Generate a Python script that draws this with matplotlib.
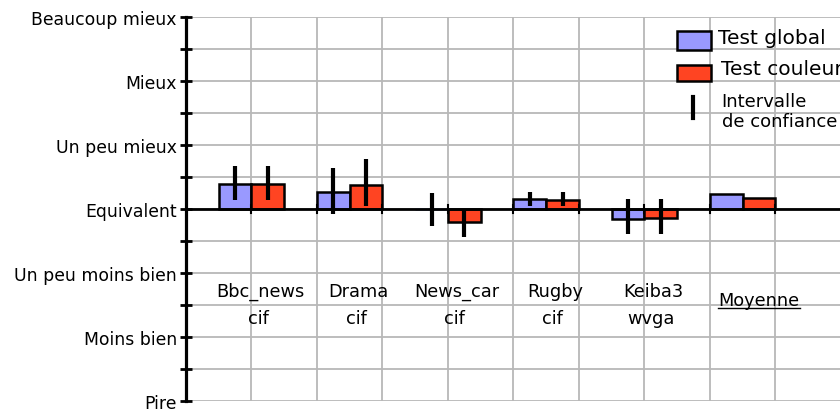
import matplotlib
matplotlib.use("Agg")
import matplotlib.pyplot as plt
import numpy as np
from matplotlib.patches import Rectangle
from matplotlib.lines import Line2D

# Sequences tested
categories = ["Bbc_news", "Drama", "News_car", "Rugby", "Keiba3", "Moyenne"]
formats = ["cif", "cif", "cif", "cif", "wvga", ""]

# Mean opinion scores (0 = Equivalent)
global_scores = [0.39, 0.27, 0.0, 0.156, -0.156, 0.23]
colour_scores = [0.39, 0.375, -0.21, 0.145, -0.145, 0.17]

# Confidence interval bounds (no interval for the average)
global_ci_low = [0.14, -0.08, -0.26, 0.05, -0.39, None]
global_ci_high = [0.67, 0.64, 0.245, 0.26, 0.156, None]
colour_ci_low = [0.14, 0.05, -0.43, 0.05, -0.39, None]
colour_ci_high = [0.67, 0.78, 0.0, 0.27, 0.156, None]

level_labels = ["Pire", "Moins bien", "Un peu moins bien", "Equivalent",
                "Un peu mieux", "Mieux", "Beaucoup mieux"]
level_values = [-3, -2, -1, 0, 1, 2, 3]

legend_labels = ["Test global", "Test couleur", "Intervalle\nde confiance"]

BLUE = "#9999ff"
RED = "#ff4422"
ZERO_EDGE = "#8fa3dc"

fig = plt.figure(figsize=(8.4, 4.1), dpi=100)
ax = fig.add_axes([186 / 840, 8 / 410, 654 / 840, 384 / 410])
ax.set_xlim(0, 9.985)
ax.set_ylim(-3, 3)

group_pos = 1 + 1.5 * np.arange(len(categories))
bw = 0.5

# grid
for yv in np.arange(-3, 3.01, 0.5):
    ax.axhline(yv, color="#b8b8b8", lw=1.3, zorder=0)
for xv in range(1, 10):
    ax.axvline(xv, color="#b8b8b8", lw=1.3, zorder=0)

def draw_series(xs, vals, lows, highs, color):
    edges = ["black" if v != 0 else ZERO_EDGE for v in vals]
    ax.bar(xs, vals, width=bw, align="edge", color=color,
           edgecolor=edges, linewidth=1.8, zorder=3)
    for x, v, lo, hi in zip(xs, vals, lows, highs):
        if lo is None:
            continue
        ax.errorbar(x + bw / 2, v, yerr=[[v - lo], [hi - v]], fmt="none",
                    ecolor="black", elinewidth=3, capsize=0, zorder=4)

draw_series(group_pos - bw, global_scores, global_ci_low, global_ci_high, BLUE)
draw_series(group_pos, colour_scores, colour_ci_low, colour_ci_high, RED)

# zero line with small ticks at the grid positions
ax.axhline(0, color="black", lw=2, zorder=3.5)
for xv in range(1, 10):
    ax.plot([xv, xv], [-0.06, 0.06], color="black", lw=1.5, zorder=3.5)

# left axis
for s in ["top", "right", "bottom"]:
    ax.spines[s].set_visible(False)
ax.spines["left"].set_linewidth(2.3)
ax.set_yticks(level_values)
ax.set_yticklabels(level_labels, fontsize=12.4)
ax.set_yticks(np.arange(-2.5, 3, 1.0), minor=True)
ax.tick_params(axis="y", which="both", direction="inout", length=9, width=2,
               pad=2)
ax.set_xticks([])

# category labels
for x, name, fmt in zip(group_pos, categories, formats):
    if fmt:
        ax.text(x + 0.13, -1.28, name, ha="center", va="center", fontsize=12.8)
        ax.text(x + 0.1, -1.7, fmt, ha="center", va="center", fontsize=12.8)
    else:
        ax.text(x + 0.25, -1.42, name, ha="center", va="center",
                fontsize=12.8)
        ax.plot([x - 0.38, x + 0.88], [-1.55, -1.55], color="black", lw=1)

# legend
def ax_frac(px, py):
    return (px - 186) / 654, (402 - py) / 384

x0, y0 = ax_frac(677.3, 50.7)
ax.add_patch(Rectangle((x0, y0), 33.7 / 654, 18.4 / 384, transform=ax.transAxes,
                       facecolor=BLUE, edgecolor="black", lw=1.8,
                       clip_on=False, zorder=5))
x0, y0 = ax_frac(677.3, 82.3)
ax.add_patch(Rectangle((x0, y0), 33.7 / 654, 16.6 / 384, transform=ax.transAxes,
                       facecolor=RED, edgecolor="black", lw=1.8,
                       clip_on=False, zorder=5))
xa, ya = ax_frac(693.3, 119.3)
xb, yb = ax_frac(693.3, 97.7)
ax.add_line(Line2D([xa, xb], [ya, yb], transform=ax.transAxes, color="black",
                   lw=3, clip_on=False, zorder=5))
tx, ty = ax_frac(718.5, 38.3)
ax.text(tx, ty, legend_labels[0], transform=ax.transAxes, fontsize=14.5,
        va="center", ha="left", clip_on=False)
tx, ty = ax_frac(721, 70)
ax.text(tx, ty, legend_labels[1], transform=ax.transAxes, fontsize=14.5,
        va="center", ha="left", clip_on=False)
tx, ty = ax_frac(721.5, 112)
ax.text(tx, ty, legend_labels[2], transform=ax.transAxes, fontsize=13,
        va="center", ha="left", linespacing=1.2, clip_on=False)

fig.savefig("out.png", dpi=100)
